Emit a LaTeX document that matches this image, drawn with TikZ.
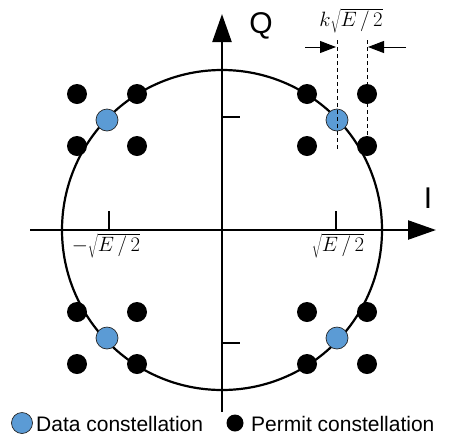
\documentclass[tikz,border=0pt]{standalone}
\usepackage{fontspec}
\setsansfont{Liberation Sans}
\usetikzlibrary{arrows.meta}
\definecolor{dblue}{HTML}{5B9BD5}
\begin{document}
\begin{tikzpicture}[x=1pt,y=-1pt,
 axis/.style={line width=2.4pt,-{Triangle[length=28pt,width=19pt]}},
 tickline/.style={line width=2.2pt},
 ring/.style={line width=2.2pt},
 data/.style={circle,fill=dblue,draw=black!85,line width=0.7pt,minimum size=22pt,inner sep=0pt},
 permit/.style={circle,fill=black,minimum size=20pt,inner sep=0pt},
 guide/.style={line width=0.9pt,dash pattern=on 4pt off 3pt},
 dimarrow/.style={line width=0.9pt,-{Triangle[length=16pt,width=12pt]}},
 axlabel/.style={font=\sffamily\fontsize{30}{34}\selectfont,inner sep=0pt},
 mathlabel/.style={font=\fontsize{22}{26}\selectfont,inner sep=0pt},
 legtext/.style={font=\sffamily\fontsize{21}{25}\selectfont,anchor=west,inner sep=0pt}
]
\useasboundingbox (0,0) rectangle (450,440);
\coordinate (o) at (222,230);
% circle
\draw[ring] (o) circle[radius=160pt];
% axes
\coordinate (xs) at (30,230);
\coordinate (xe) at (436,230);
\coordinate (ys) at (222,412);
\coordinate (ye) at (222,14);
\draw[axis] (xs) -- (xe);
\draw[axis] (ys) -- (ye);
% ticks
\coordinate (tl) at (109,230); \coordinate (tl2) at (109,211);
\coordinate (tr) at (336,230); \coordinate (tr2) at (336,211);
\coordinate (tu) at (222,117); \coordinate (tu2) at (240,117);
\coordinate (td) at (222,343); \coordinate (td2) at (240,343);
\draw[tickline] (tl) -- (tl2);
\draw[tickline] (tr) -- (tr2);
\draw[tickline] (tu) -- (tu2);
\draw[tickline] (td) -- (td2);
% tick labels
\node[mathlabel,anchor=north] (lneg) at (106,233) {$-\sqrt{E\,/\,2}$};
\node[mathlabel,anchor=north] (lpos) at (338,233) {$\sqrt{E\,/\,2}$};
% axis labels
\node[axlabel] (Qlab) at (261,26) {Q};
\node[axlabel] (Ilab) at (428,198) {I};
% permit constellation
\foreach \cx/\cy/\nm in {107/120/a,337/120/b,107/338/c,337/338/d}{
  \node[permit] (\nm1) at (\cx-30,\cy-26) {};
  \node[permit] (\nm2) at (\cx+30,\cy-26) {};
  \node[permit] (\nm3) at (\cx-30,\cy+26) {};
  \node[permit] (\nm4) at (\cx+30,\cy+26) {};
  \node[data] (\nm0) at (\cx,\cy) {};
}
% guides
\coordinate (g1t) at (337,40); \coordinate (g1b) at (337,150);
\coordinate (g2t) at (367,40);
\draw[guide] (g1t) -- (g1b);
\draw[guide] (g2t) -- (b4.center);
\coordinate (a1s) at (305,47); \coordinate (a1e) at (336,47);
\coordinate (a2s) at (406,47); \coordinate (a2e) at (368,47);
\draw[dimarrow] (a1s) -- (a1e);
\draw[dimarrow] (a2s) -- (a2e);
\node[mathlabel,anchor=north] (klab) at (351,8) {$k\sqrt{E\,/\,2}$};
% legend
\node[data,minimum size=21pt] (ld) at (22,423) {};
\node[legtext] (ldt) at (36,424) {Data constellation};
\node[permit,minimum size=17pt] (lp) at (235,423) {};
\node[legtext] (lpt) at (251,424) {Permit constellation};
\end{tikzpicture}
\end{document}
